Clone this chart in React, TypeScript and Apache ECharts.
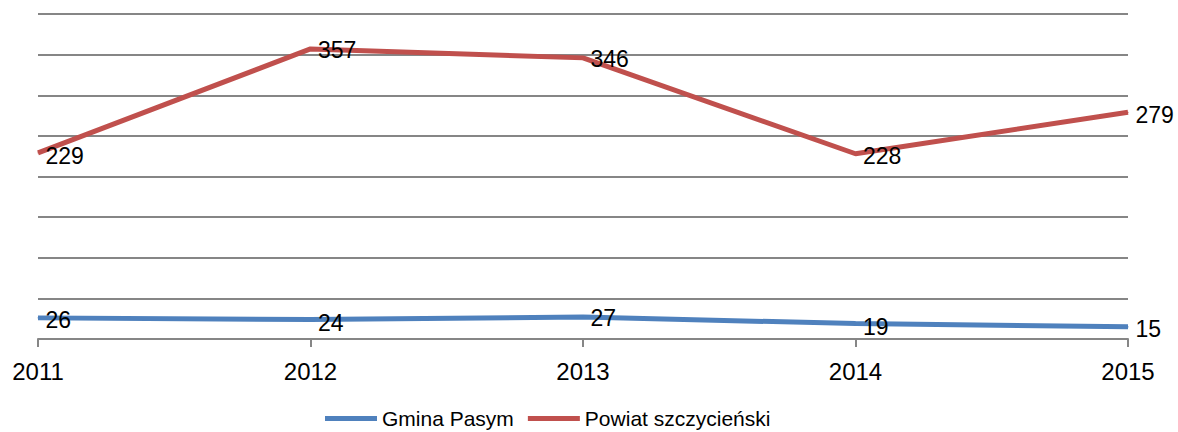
import React, { useEffect, useRef } from "react";
import * as echarts from "echarts";

const years = ["2011", "2012", "2013", "2014", "2015"];
const gminaPasym = [26, 24, 27, 19, 15];
const powiat = [229, 357, 346, 228, 279];
const seriesNames = ["Gmina Pasym", "Powiat szczycieński"];

export default function App() {
  const ref = useRef<HTMLDivElement>(null);
  useEffect(() => {
    const chart = echarts.init(ref.current!, null, { renderer: "svg" });
    const font = "Liberation Sans";
    const labelBase = {
      show: true,
      position: "right" as const,
      distance: 7,
      color: "#000",
      fontFamily: font,
      fontSize: 23,
    };
    const redOffsets = [[0, 3], [0, 1], [0, 1], [0, 2], [0, 3]];
    const blueOffsets = [[0, 2], [0, 3], [0, 1], [0, 3], [0, 2]];
    chart.setOption({
      animation: false,
      grid: { left: 38, right: 50, top: 14, bottom: 93 },
      legend: {
        bottom: -2,
        left: 320,
        itemWidth: 52,
        itemHeight: 5,
        itemGap: 14,
        icon: "rect",
        textStyle: { fontFamily: font, fontSize: 21, color: "#000" },
        data: seriesNames,
      },
      xAxis: {
        type: "category",
        data: years,
        boundaryGap: false,
        axisLine: { lineStyle: { color: "#868686", width: 2 } },
        axisTick: { show: true, length: 8, lineStyle: { color: "#868686", width: 2 } },
        axisLabel: { color: "#000", fontFamily: font, fontSize: 24, margin: 20 },
      },
      yAxis: {
        type: "value",
        min: 0,
        max: 400,
        interval: 50,
        axisLabel: { show: false },
        axisLine: { show: false },
        axisTick: { show: false },
        splitLine: { lineStyle: { color: "#868686", width: 2 } },
      },
      series: [
        {
          name: seriesNames[0],
          type: "line",
          data: gminaPasym.map((v, i) => ({
            value: v,
            label: { ...labelBase, offset: blueOffsets[i] },
          })),
          symbol: "circle",
          symbolSize: 1,
          showSymbol: true,
          color: "#4F81BD",
          itemStyle: { color: "#4F81BD" },
          lineStyle: { width: 5, color: "#4F81BD" },
        },
        {
          name: seriesNames[1],
          type: "line",
          data: powiat.map((v, i) => ({
            value: v,
            label: { ...labelBase, offset: redOffsets[i] },
          })),
          symbol: "circle",
          symbolSize: 1,
          showSymbol: true,
          color: "#C0504D",
          itemStyle: { color: "#C0504D" },
          lineStyle: { width: 5, color: "#C0504D" },
        },
      ],
    });
    return () => chart.dispose();
  }, []);
  return <div ref={ref} style={{ width: 1178, height: 432, position: "absolute", left: 0, top: 0 }} />;
}
